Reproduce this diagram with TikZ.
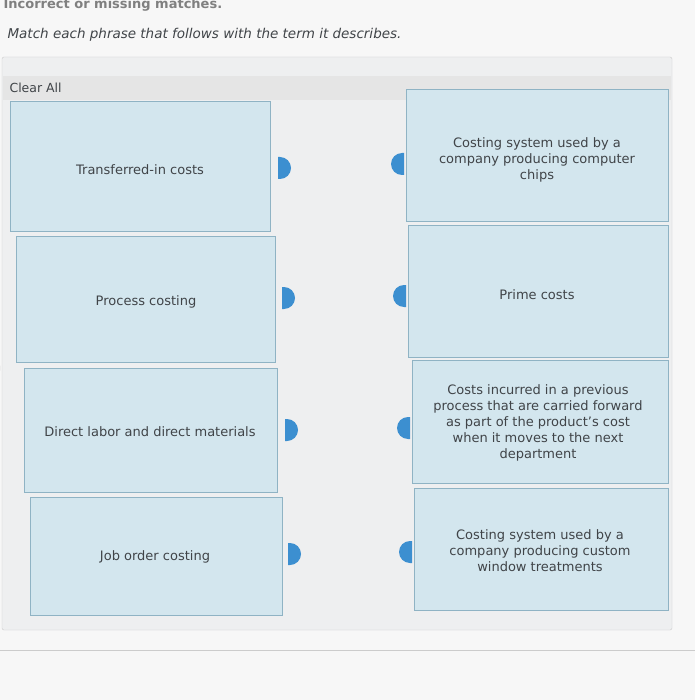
\documentclass[tikz,border=0pt]{standalone}
\usepackage{fontspec}
\setmainfont{DejaVu Sans}
\definecolor{boxfill}{HTML}{D3E6EE}
\definecolor{boxline}{HTML}{8FB3C4}
\definecolor{tab}{HTML}{3C8FD0}
\definecolor{txt}{HTML}{404448}
\definecolor{panel}{HTML}{EEEFF0}
\tikzset{
 lbox/.style={draw=boxline,fill=boxfill,line width=1pt},
 ltxt/.style={text=txt,font=\fontsize{13}{16}\selectfont,align=center},
}
\begin{document}
\begin{tikzpicture}[x=1pt,y=-1pt]
\useasboundingbox (0,0) rectangle (695,700);
\fill[white!94!gray] (0,0) rectangle (695,700);
\node[anchor=west,text=gray,font=\bfseries\fontsize{13}{15}\selectfont] (top) at (0,5) {Incorrect or missing matches.};
\node[anchor=west,text=txt,font=\itshape\fontsize{13.5}{16}\selectfont] (q) at (4,35) {Match each phrase that follows with the term it describes.};
\draw[gray!40,fill=panel,rounded corners=2] (2,57) rectangle (672,630);
\fill[gray!20] (3,76) rectangle (671,100);
\node[anchor=west,text=txt,font=\fontsize{12.5}{14}\selectfont] (clr) at (6,88) {Clear All};
% left boxes
\draw[lbox] (10,102) rectangle (270,232); \node[ltxt] (l1) at (140,170) {Transferred-in costs};
\draw[lbox] (16,237) rectangle (275,362); \node[ltxt] (l2) at (146,302) {Process costing};
\draw[lbox] (24,368) rectangle (277,492); \node[ltxt] (l3) at (150,432) {Direct labor and direct materials};
\draw[lbox] (30,497) rectangle (282,615); \node[ltxt] (l4) at (155,557) {Job order costing};
% right boxes
\draw[lbox] (406,90) rectangle (668,222); \node[ltxt] (r1) at (537,160) {Costing system used by a\\company producing computer\\chips};
\draw[lbox] (408,226) rectangle (668,357); \node[ltxt] (r2) at (537,295) {Prime costs};
\draw[lbox] (412,360) rectangle (668,483); \node[ltxt] (r3) at (538,423) {Costs incurred in a previous\\process that are carried forward\\as part of the product's cost\\when it moves to the next\\department};
\draw[lbox] (414,488) rectangle (668,610); \node[ltxt] (r4) at (540,551) {Costing system used by a\\company producing custom\\window treatments};
% tabs
\foreach \x/\y in {278/168,282/298,285/430,288/554}{
 \fill[tab] (\x,\y-11) -- (\x+2,\y-11) arc[start angle=-90,end angle=90,radius=11] -- (\x,\y+11) -- cycle;}
\foreach \x/\y in {404/164,406/296,410/428,412/552}{
 \fill[tab] (\x,\y-11) -- (\x-2,\y-11) arc[start angle=270,end angle=90,radius=11] -- (\x,\y+11) -- cycle;}
\draw[gray!40] (0,650) -- (695,650);
\draw[gray!60,line width=1.5pt] (-8,355) arc[start angle=-60,end angle=60,radius=15];
\end{tikzpicture}
\end{document}
